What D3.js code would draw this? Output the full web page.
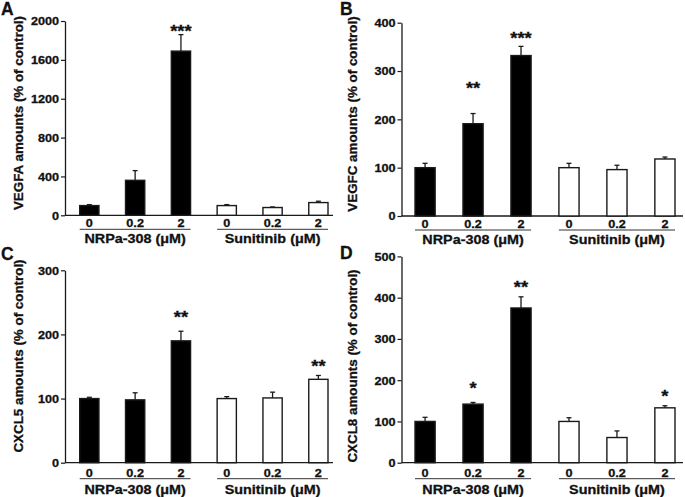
<!DOCTYPE html>
<html>
<head>
<meta charset="utf-8">
<script src="https://cdn.jsdelivr.net/npm/d3@7"></script>
<style>
html,body{margin:0;padding:0;background:#fff;}
svg{display:block;}
text{font-family:"Liberation Sans",Arial,Helvetica,sans-serif;font-weight:bold;fill:#111;stroke:#111;stroke-width:0.3px;}
</style>
</head>
<body>
<svg id="chart" width="685" height="497"></svg>
<script>
// ---------- data ----------
const categories = ["0", "0.2", "2", "0", "0.2", "2"];
const groupLabels = ["NRPa-308 (\u03bcM)", "Sunitinib (\u03bcM)"];

const vegfaMean = [100, 360, 1690, 100, 80, 131];
const vegfaErr  = [10, 100, 170, 10, 6, 14];
const vegfaSig  = ["", "", "***", "", "", ""];
const vegfaSigAt = [0, 0, 1931, 0, 0, 0];
const vegfaTicks = [0, 400, 800, 1200, 1600, 2000];

const vegfcMean = [100, 191, 332, 100, 96, 118];
const vegfcErr  = [9, 21, 19, 9, 9, 4];
const vegfcSig  = ["", "**", "***", "", "", ""];
const vegfcSigAt = [0, 271, 374, 0, 0, 0];
const vegfcTicks = [0, 100, 200, 300, 400];

const cxcl5Mean = [100, 98, 190, 100, 101, 130];
const cxcl5Err  = [2, 11, 15, 3, 9, 6];
const cxcl5Sig  = ["", "", "**", "", "", "**"];
const cxcl5SigAt = [0, 0, 232, 0, 0, 155];
const cxcl5Ticks = [0, 100, 200, 300];

const cxcl8Mean = [100, 142, 375, 100, 61, 133];
const cxcl8Err  = [10, 4, 27, 9, 16, 5];
const cxcl8Sig  = ["", "*", "**", "", "", "*"];
const cxcl8SigAt = [0, 189, 433, 0, 0, 168];
const cxcl8Ticks = [0, 100, 200, 300, 400, 500];

const titles = ["VEGFA amounts (% of control)", "VEGFC amounts (% of control)",
                "CXCL5 amounts (% of control)", "CXCL8 amounts (% of control)"];
const letters = ["A", "B", "C", "D"];

// ---------- layout ----------
const left  = {axisX: 65,    barL: 79.7, barR: 328, xEnd: 333, letterX: 1,   titleX: 18};
const right = {axisX: 401.5, barL: 415,  barR: 675, xEnd: 683, letterX: 340, titleX: 352.5};
const top_  = {tickOff: 8,  lineOff: 14, groupOff: 23.5};
const bot_  = {tickOff: 10.5, lineOff: 16, groupOff: 26.5};

const panels = [
  {mean: vegfaMean, err: vegfaErr, sig: vegfaSig, sigAt: vegfaSigAt, ticks: vegfaTicks,
   title: titles[0], letter: letters[0], col: left, row: top_, yTop: 21, y0: 215.3, letterY: 14.5, titleY: 113},
  {mean: vegfcMean, err: vegfcErr, sig: vegfcSig, sigAt: vegfcSigAt, ticks: vegfcTicks,
   title: titles[1], letter: letters[1], col: right, row: top_, yTop: 22.7, y0: 216, letterY: 15, titleY: 114},
  {mean: cxcl5Mean, err: cxcl5Err, sig: cxcl5Sig, sigAt: cxcl5SigAt, ticks: cxcl5Ticks,
   title: titles[2], letter: letters[2], col: left, row: bot_, yTop: 270.3, y0: 462.7, letterY: 260, titleY: 356},
  {mean: cxcl8Mean, err: cxcl8Err, sig: cxcl8Sig, sigAt: cxcl8SigAt, ticks: cxcl8Ticks,
   title: titles[3], letter: letters[3], col: right, row: bot_, yTop: 256.4, y0: 462.7, letterY: 258.5, titleY: 366}
];

const SX = 1.15; // horizontal text stretch of the original figure
const svg = d3.select("#chart");
const ink = "#1a1a1a";

panels.forEach(p => {
  const g = svg.append("g");
  const c = p.col;
  const y = d3.scaleLinear().domain([0, d3.max(p.ticks)]).range([p.y0, p.yTop]);
  const x = d3.scaleBand().domain(d3.range(categories.length))
              .range([c.barL, c.barR]).paddingInner(0.58).paddingOuter(0);
  const bw = x.bandwidth();

  // y axis
  const ya = g.append("g").attr("transform", `translate(${c.axisX},0)`)
    .call(d3.axisLeft(y).tickValues(p.ticks).tickSize(4).tickSizeOuter(0).tickPadding(2).tickFormat(d3.format("d")));
  ya.attr("font-family", null);
  ya.select(".domain").attr("stroke", ink).attr("stroke-width", 1.3);
  ya.selectAll(".tick line").attr("stroke", ink).attr("stroke-width", 1.2);
  ya.selectAll(".tick text")
    .attr("font-size", 11)
    .attr("dy", "0.36em")
    .attr("x", -6 / SX)
    .attr("transform", `scale(${SX},1)`);

  // x axis line
  g.append("line").attr("x1", c.axisX).attr("x2", c.xEnd).attr("y1", p.y0).attr("y2", p.y0)
    .attr("stroke", ink).attr("stroke-width", 1.3);

  // x tick labels
  const xa = g.append("g").attr("transform", `translate(0,${p.y0 + p.row.tickOff})`)
    .call(d3.axisBottom(x).tickSize(0).tickPadding(0).tickFormat(i => categories[i]));
  xa.attr("font-family", null);
  xa.select(".domain").remove();
  xa.selectAll(".tick text")
    .attr("font-size", 11)
    .attr("y", 0).attr("dy", "0.36em")
    .attr("transform", `scale(${SX},1)`)
    .attr("x", 0);

  // bars
  g.selectAll("rect.bar").data(p.mean).join("rect")
    .attr("class", "bar")
    .attr("x", (d, i) => x(i))
    .attr("width", bw)
    .attr("y", d => y(d))
    .attr("height", d => p.y0 - y(d))
    .attr("fill", (d, i) => i < 3 ? "#000" : "#fff")
    .attr("stroke", ink).attr("stroke-width", 1.4);

  // error bars
  p.mean.forEach((m, i) => {
    const cx = x(i) + bw / 2;
    g.append("line").attr("x1", cx).attr("x2", cx).attr("y1", y(m)).attr("y2", y(m + p.err[i]))
      .attr("stroke", ink).attr("stroke-width", 1.3);
    g.append("line").attr("x1", cx - 2.5).attr("x2", cx + 2.5).attr("y1", y(m + p.err[i])).attr("y2", y(m + p.err[i]))
      .attr("stroke", ink).attr("stroke-width", 1.3);
    if (p.sig[i]) {
      g.append("text")
        .attr("transform", `translate(${cx},${y(p.sigAt[i]) + 9}) scale(${SX},1)`)
        .attr("text-anchor", "middle").attr("font-size", 16)
        .text(p.sig[i]);
    }
  });

  // group underlines and labels
  groupLabels.forEach((lab, gi) => {
    const x1 = x(gi * 3), x2 = x(gi * 3 + 2) + bw;
    g.append("line").attr("x1", x1).attr("x2", x2)
      .attr("y1", p.y0 + p.row.lineOff).attr("y2", p.y0 + p.row.lineOff)
      .attr("stroke", "#333").attr("stroke-width", 1);
    g.append("text")
      .attr("transform", `translate(${(x1 + x2) / 2},${p.y0 + p.row.groupOff}) scale(${SX},1)`)
      .attr("text-anchor", "middle").attr("dy", "0.36em").attr("font-size", 12.5)
      .text(lab);
  });

  // y title
  g.append("text")
    .attr("transform", `translate(${c.titleX},${p.titleY}) rotate(-90) scale(1.07,1)`)
    .attr("text-anchor", "middle").attr("dy", "0.36em").attr("font-size", 12.5)
    .text(p.title);

  // panel letter
  g.append("text").attr("x", c.letterX).attr("y", p.letterY)
    .attr("font-size", 17.5).text(p.letter);
});
</script>
</body>
</html>
